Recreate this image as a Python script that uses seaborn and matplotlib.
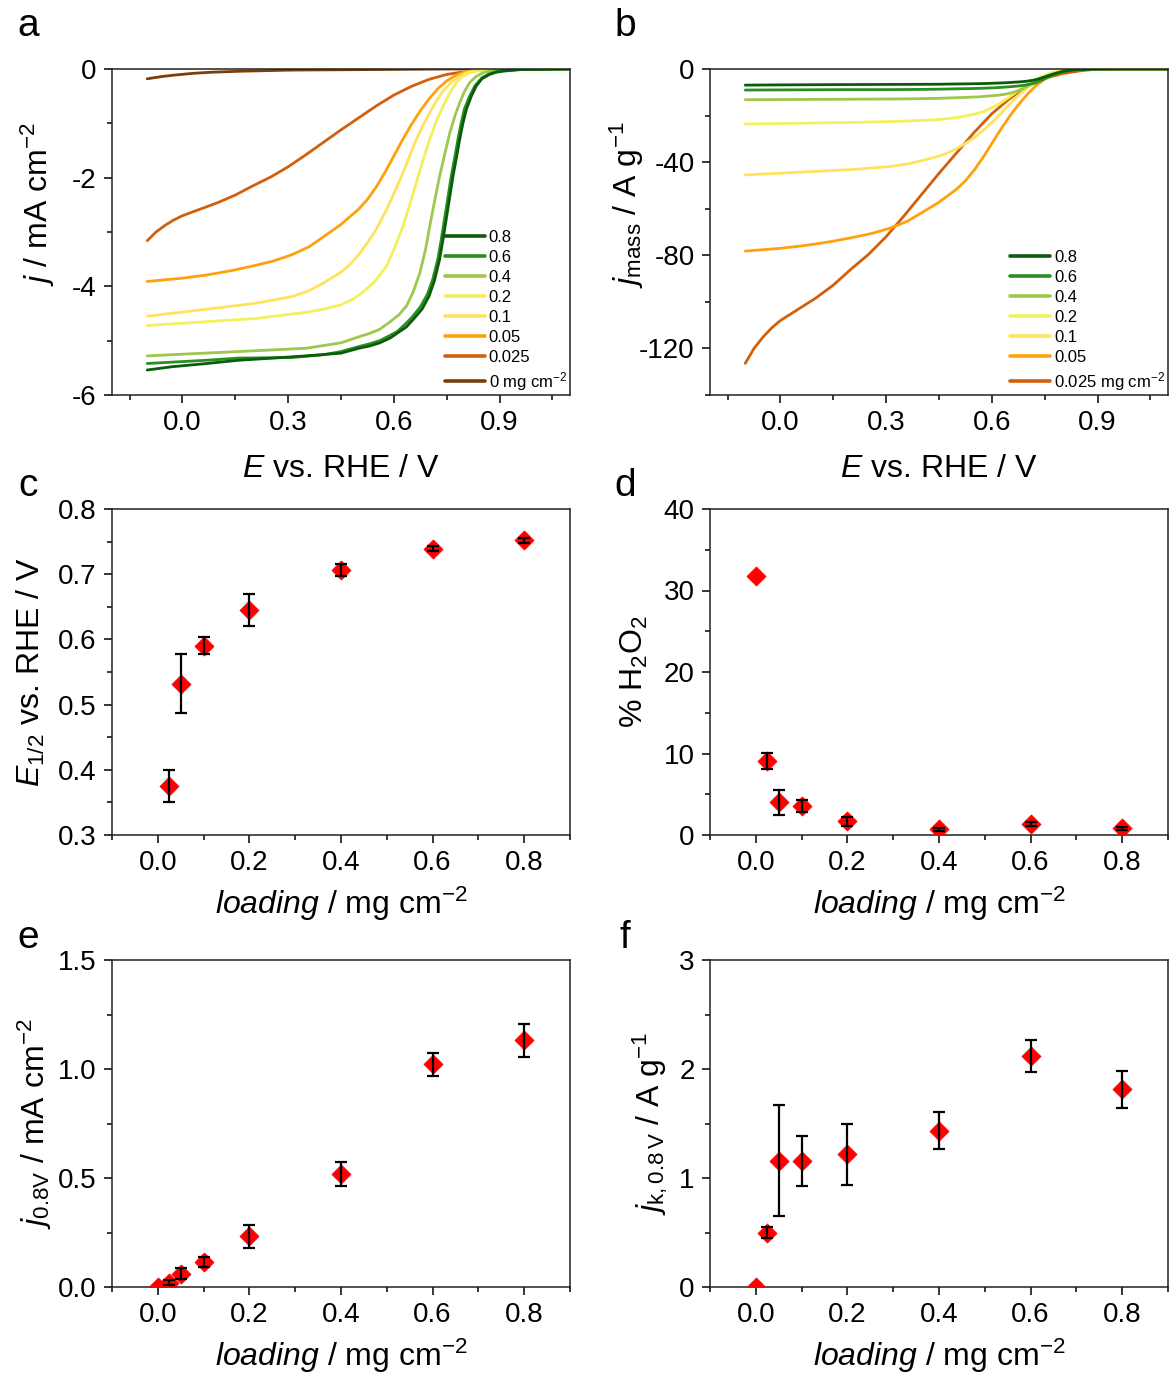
import numpy as np
import pandas as pd
import matplotlib
matplotlib.use("Agg")
import matplotlib.pyplot as plt
import seaborn as sns
from matplotlib.ticker import MultipleLocator, FormatStrFormatter

# ---------------- data: panel a (LSV curves, E / V vs RHE, j / mA cm-2) ----------------
E_08 = [-0.10, -0.03, 0.07, 0.16, 0.26, 0.35, 0.45, 0.50, 0.53, 0.56, 0.59, 0.61, 0.635, 0.655, 0.68, 0.70, 0.715,
        0.73, 0.74, 0.75, 0.76, 0.768, 0.778, 0.787, 0.796, 0.806, 0.82, 0.834, 0.85, 0.872, 0.89, 0.91, 0.96, 1.10]
j_08 = [-5.54, -5.48, -5.42, -5.36, -5.32, -5.28, -5.23, -5.14, -5.10, -5.04, -4.95, -4.86, -4.75, -4.61, -4.42, -4.18, -3.90,
        -3.50, -3.12, -2.71, -2.30, -1.97, -1.62, -1.29, -1.00, -0.74, -0.50, -0.31, -0.18, -0.10, -0.06, -0.04, -0.01, 0.0]
E_06 = [-0.10, 0.07, 0.16, 0.31, 0.40, 0.45, 0.50, 0.53, 0.56, 0.59, 0.61, 0.63, 0.65, 0.675, 0.695, 0.71, 0.725,
        0.735, 0.745, 0.755, 0.763, 0.773, 0.782, 0.791, 0.80, 0.815, 0.83, 0.85, 0.87, 0.89, 0.91, 0.96, 1.10]
j_06 = [-5.42, -5.36, -5.32, -5.31, -5.26, -5.20, -5.11, -5.06, -5.00, -4.90, -4.83, -4.71, -4.58, -4.38, -4.15, -3.88, -3.50,
        -3.12, -2.71, -2.30, -1.97, -1.62, -1.29, -1.00, -0.74, -0.50, -0.31, -0.16, -0.09, -0.05, -0.03, -0.01, 0.0]
E_04 = [-0.10, 0.16, 0.35, 0.45, 0.50, 0.53, 0.56, 0.59, 0.615, 0.636, 0.655, 0.674, 0.69, 0.702, 0.716, 0.73, 0.745,
        0.759, 0.773, 0.787, 0.80, 0.815, 0.833, 0.853, 0.875, 0.90, 1.10]
j_04 = [-5.28, -5.20, -5.14, -5.04, -4.93, -4.87, -4.79, -4.65, -4.52, -4.36, -4.10, -3.75, -3.32, -2.89, -2.42, -1.97, -1.55,
        -1.17, -0.87, -0.62, -0.42, -0.25, -0.14, -0.07, -0.03, -0.01, 0.0]
E_02 = [-0.10, 0.07, 0.21, 0.35, 0.40, 0.45, 0.48, 0.51, 0.545, 0.579, 0.603, 0.626, 0.645, 0.664, 0.683, 0.702, 0.72,
        0.74, 0.758, 0.777, 0.795, 0.815, 0.84, 0.86, 1.10]
j_02 = [-4.72, -4.65, -4.59, -4.48, -4.42, -4.34, -4.25, -4.12, -3.92, -3.63, -3.28, -2.89, -2.50, -2.09, -1.67, -1.29, -0.97,
        -0.68, -0.45, -0.25, -0.14, -0.07, -0.03, -0.01, 0.0]
E_01 = [-0.10, 0.07, 0.21, 0.31, 0.36, 0.40, 0.45, 0.475, 0.50, 0.525, 0.55, 0.58, 0.603, 0.626, 0.645, 0.664, 0.683,
        0.702, 0.72, 0.74, 0.762, 0.787, 0.805, 0.825, 0.85, 0.87, 1.10]
j_01 = [-4.55, -4.42, -4.31, -4.19, -4.08, -3.94, -3.74, -3.60, -3.42, -3.20, -2.95, -2.58, -2.25, -1.91, -1.60, -1.29, -1.03,
        -0.80, -0.60, -0.40, -0.25, -0.13, -0.07, -0.04, -0.02, -0.01, 0.0]
E_005 = [-0.10, 0.0, 0.07, 0.14, 0.21, 0.26, 0.31, 0.36, 0.40, 0.45, 0.50, 0.525, 0.55, 0.575, 0.60, 0.625, 0.65,
         0.675, 0.70, 0.725, 0.75, 0.775, 0.80, 0.83, 0.86, 1.10]
j_005 = [-3.91, -3.85, -3.79, -3.71, -3.61, -3.53, -3.42, -3.27, -3.09, -2.86, -2.58, -2.40, -2.17, -1.90, -1.60, -1.30, -1.02,
         -0.77, -0.55, -0.36, -0.22, -0.12, -0.05, -0.02, 0.0, 0.0]
E_0025 = [-0.10, -0.075, -0.05, -0.025, 0.0, 0.05, 0.10, 0.15, 0.20, 0.25, 0.30, 0.35, 0.40, 0.45, 0.50, 0.55, 0.60,
          0.65, 0.70, 0.75, 0.80, 0.85, 0.90, 1.10]
j_0025 = [-3.16, -3.00, -2.88, -2.78, -2.70, -2.58, -2.46, -2.32, -2.15, -1.99, -1.80, -1.58, -1.35, -1.12, -0.90, -0.68, -0.48,
          -0.32, -0.19, -0.10, -0.05, -0.02, 0.0, 0.0]
E_0 = [-0.10, -0.06, -0.02, 0.03, 0.08, 0.17, 0.31, 0.55, 0.75, 1.10]
j_0 = [-0.18, -0.14, -0.11, -0.08, -0.06, -0.04, -0.02, -0.01, 0.0, 0.0]

loadings_ab = [0.8, 0.6, 0.4, 0.2, 0.1, 0.05, 0.025, 0.0]
labels_a = ["0.8", "0.6", "0.4", "0.2", "0.1", "0.05", "0.025", "0 mg cm$^{-2}$"]
labels_b = ["0.8", "0.6", "0.4", "0.2", "0.1", "0.05", "0.025 mg cm$^{-2}$"]
curve_colors = ["#0a5c0a", "#2a8f23", "#9dc84c", "#f4ef5c", "#ffe35c", "#ffa10a", "#d25f0c", "#7a3e0a"]

# ---------------- data: panels c-f ----------------
loading_c = [0.025, 0.05, 0.1, 0.2, 0.4, 0.6, 0.8]
E_half = [0.375, 0.532, 0.590, 0.645, 0.706, 0.739, 0.752]
E_half_err = [0.025, 0.045, 0.013, 0.025, 0.009, 0.004, 0.004]

loading_def = [0.0, 0.025, 0.05, 0.1, 0.2, 0.4, 0.6, 0.8]
h2o2 = [31.8, 9.1, 4.0, 3.6, 1.7, 0.7, 1.35, 0.8]
h2o2_err = [0.0, 1.0, 1.5, 0.75, 0.55, 0.15, 0.25, 0.2]
j_08V = [0.0, 0.02, 0.06, 0.115, 0.233, 0.517, 1.022, 1.132]
j_08V_err = [0.0, 0.01, 0.025, 0.024, 0.052, 0.055, 0.053, 0.075]
j_k = [0.0, 0.50, 1.16, 1.156, 1.22, 1.434, 2.12, 1.814]
j_k_err = [0.0, 0.05, 0.51, 0.225, 0.28, 0.17, 0.147, 0.17]

# ---------------- style ----------------
sns.set_style("ticks")
plt.rcParams["font.family"] = ["Liberation Sans", "DejaVu Sans"]
plt.rcParams["mathtext.fontset"] = "custom"
plt.rcParams["mathtext.rm"] = "Liberation Sans"
plt.rcParams["mathtext.it"] = "Liberation Sans:italic"
plt.rcParams["mathtext.bf"] = "Liberation Sans:bold"
plt.rcParams["text.color"] = "black"
plt.rcParams["axes.labelcolor"] = "black"
plt.rcParams["xtick.color"] = "black"
plt.rcParams["ytick.color"] = "black"

TICK_FS = 20
LABEL_FS = 23

fig = plt.figure(figsize=(11.69, 13.75), dpi=100)
W, H = 1169.0, 1375.0


def add_ax(left, top, right, bottom):
    return fig.add_axes([left / W, 1 - bottom / H, (right - left) / W, (bottom - top) / H])


def style(ax):
    for s in ax.spines.values():
        s.set_visible(True)
        s.set_linewidth(1.1)
        s.set_color("#222222")
    ax.tick_params(which="major", direction="out", length=6, width=1.1, labelsize=TICK_FS,
                   top=False, right=False, pad=5)
    ax.tick_params(which="minor", direction="out", length=3.5, width=1.1,
                   top=False, right=False)
    ax.grid(False)


ax_a = add_ax(112, 69, 570, 395)
ax_b = add_ax(710, 69, 1168, 395)
ax_c = add_ax(112, 509, 570, 835)
ax_d = add_ax(710, 509, 1168, 835)
ax_e = add_ax(112, 960, 570, 1287)
ax_f = add_ax(710, 960, 1168, 1287)

# ---------------- panel a & b ----------------
E_sets = [E_08, E_06, E_04, E_02, E_01, E_005, E_0025, E_0]
j_sets = [j_08, j_06, j_04, j_02, j_01, j_005, j_0025, j_0]
rows_a, rows_b = [], []
for i, (Es, js) in enumerate(zip(E_sets, j_sets)):
    for e, j in zip(Es, js):
        rows_a.append({"E": e, "j": j, "loading": labels_a[i]})
        if loadings_ab[i] > 0:
            rows_b.append({"E": e, "j": j / loadings_ab[i], "loading": labels_b[i]})
df_a = pd.DataFrame(rows_a)
df_b = pd.DataFrame(rows_b)

pal_a = dict(zip(labels_a, curve_colors))
pal_b = dict(zip(labels_b, curve_colors[:7]))

sns.lineplot(data=df_a, x="E", y="j", hue="loading", hue_order=labels_a[::-1],
             palette=pal_a, sort=False, estimator=None, linewidth=2.0, ax=ax_a, legend=True)
sns.lineplot(data=df_b, x="E", y="j", hue="loading", hue_order=labels_b[::-1],
             palette=pal_b, sort=False, estimator=None, linewidth=2.0, ax=ax_b, legend=True)

for ax, labels in [(ax_a, labels_a), (ax_b, labels_b)]:
    h, l = ax.get_legend_handles_labels()
    hd = dict(zip(l, h))
    leg = ax.legend([hd[k] for k in labels], labels, loc="lower right", bbox_to_anchor=(1.0, 0.0),
                    frameon=False, fontsize=12, handlelength=2.4, handletextpad=0.25,
                    labelspacing=0.3, borderaxespad=0.05, borderpad=0.1)
    for ln in leg.get_lines():
        ln.set_linewidth(2.6)

for ax in (ax_a, ax_b):
    style(ax)
    ax.set_xlim(-0.2, 1.1)
    ax.xaxis.set_major_locator(MultipleLocator(0.3))
    ax.xaxis.set_minor_locator(MultipleLocator(0.15))
    ax.xaxis.set_major_formatter(FormatStrFormatter("%.1f"))
    ax.set_xlabel("$E$ vs. RHE / V", fontsize=LABEL_FS, labelpad=13)

ax_a.set_ylim(-6, 0)
ax_a.yaxis.set_major_locator(MultipleLocator(2))
ax_a.yaxis.set_minor_locator(MultipleLocator(1))
ax_a.yaxis.set_major_formatter(FormatStrFormatter("%d"))
ax_a.set_ylabel("$j$ / mA cm$^{-2}$", fontsize=LABEL_FS)
ax_a.yaxis.set_label_coords(-0.12, 0.585)

ax_b.set_ylim(-140, 0)
ax_b.yaxis.set_major_locator(MultipleLocator(40))
ax_b.yaxis.set_minor_locator(MultipleLocator(20))
ax_b.yaxis.set_major_formatter(FormatStrFormatter("%d"))
ax_b.set_ylabel("$j_\\mathrm{mass}$ / A g$^{-1}$", fontsize=LABEL_FS)
ax_b.yaxis.set_label_coords(-0.14, 0.585)


# ---------------- panels c-f ----------------
def points(ax, x, y, err):
    sns.scatterplot(x=x, y=y, marker="D", color="#ff0000", edgecolor="#ff0000",
                    s=95, linewidth=0.5, ax=ax, zorder=3, legend=False)
    xe = [a for a, e in zip(x, err) if e > 0]
    ye = [b for b, e in zip(y, err) if e > 0]
    ee = [e for e in err if e > 0]
    ax.errorbar(xe, ye, yerr=ee, fmt="none", ecolor="black", elinewidth=1.6,
                capsize=4.5, capthick=1.6, zorder=4)


points(ax_c, loading_c, E_half, E_half_err)
points(ax_d, loading_def, h2o2, h2o2_err)
points(ax_e, loading_def, j_08V, j_08V_err)
points(ax_f, loading_def, j_k, j_k_err)

for ax in (ax_c, ax_d, ax_e, ax_f):
    style(ax)
    ax.set_xlim(-0.1, 0.9)
    ax.xaxis.set_major_locator(MultipleLocator(0.2))
    ax.xaxis.set_minor_locator(MultipleLocator(0.1))
    ax.xaxis.set_major_formatter(FormatStrFormatter("%.1f"))
    ax.set_xlabel("$loading$ / mg cm$^{-2}$", fontsize=LABEL_FS, labelpad=6)

ax_c.set_ylim(0.3, 0.8)
ax_c.yaxis.set_major_locator(MultipleLocator(0.1))
ax_c.yaxis.set_minor_locator(MultipleLocator(0.05))
ax_c.yaxis.set_major_formatter(FormatStrFormatter("%.1f"))
ax_c.set_ylabel("$E_{1/2}$ vs. RHE / V", fontsize=LABEL_FS, labelpad=8)

ax_d.set_ylim(0, 40)
ax_d.yaxis.set_major_locator(MultipleLocator(10))
ax_d.yaxis.set_minor_locator(MultipleLocator(5))
ax_d.yaxis.set_major_formatter(FormatStrFormatter("%d"))
ax_d.set_ylabel("% H$_2$O$_2$", fontsize=LABEL_FS, labelpad=10)

ax_e.set_ylim(0, 1.5)
ax_e.yaxis.set_major_locator(MultipleLocator(0.5))
ax_e.yaxis.set_minor_locator(MultipleLocator(0.25))
ax_e.yaxis.set_major_formatter(FormatStrFormatter("%.1f"))
ax_e.set_ylabel("$j_\\mathrm{0.8V}$ / mA cm$^{-2}$", fontsize=LABEL_FS, labelpad=3)

ax_f.set_ylim(0, 3)
ax_f.yaxis.set_major_locator(MultipleLocator(1))
ax_f.yaxis.set_minor_locator(MultipleLocator(0.5))
ax_f.yaxis.set_major_formatter(FormatStrFormatter("%d"))
ax_f.set_ylabel("$j_\\mathrm{k,0.8\\,V}$ / A g$^{-1}$", fontsize=LABEL_FS, labelpad=7)

# panel letters
for letter, (x, y) in zip("abcdef", [(28, 26), (625, 26), (28, 486), (625, 486), (28, 938), (625, 938)]):
    fig.text(x / W, 1 - y / H, letter, fontsize=28, ha="center", va="center")

fig.savefig("out.png", dpi=100)
